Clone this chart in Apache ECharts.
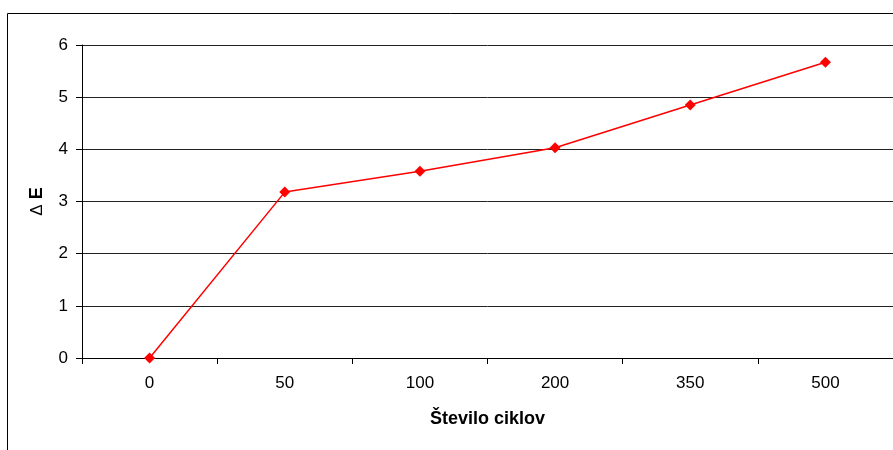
<!DOCTYPE html>
<html>
<head>
<meta charset="utf-8">
<script src="https://cdn.jsdelivr.net/npm/echarts@6/dist/echarts.min.js"></script>
<style>
  html, body { margin: 0; padding: 0; background: #fff; }
  #chart { width: 893px; height: 450px; }
</style>
</head>
<body>
<div id="chart"></div>
<script>
// Number of cycles and the measured colour difference after each
const cycles = ['0', '50', '100', '200', '350', '500'];
const deltaE = [0, 3.18, 3.58, 4.03, 4.85, 5.67];
const yTicks = { min: 0, max: 6, interval: 1 };

const font = 'Liberation Sans, Arial, sans-serif';
const chart = echarts.init(document.getElementById('chart'), null, { renderer: 'canvas' });

chart.setOption({
  backgroundColor: '#fff',
  animation: false,
  graphic: [{
    type: 'rect',
    shape: { x: 7.5, y: 13.5, width: 1000, height: 1000 },
    style: { fill: 'none', stroke: '#000', lineWidth: 1 },
    silent: true
  }],
  grid: { left: 82, right: -2, top: 45, bottom: 92, containLabel: false },
  xAxis: {
    type: 'category',
    data: cycles,
    boundaryGap: true,
    name: 'Število ciklov',
    nameLocation: 'middle',
    nameGap: 52,
    nameTextStyle: { fontFamily: font, fontSize: 18, fontWeight: 'bold', color: '#000' },
    axisLine: { lineStyle: { color: '#000', width: 1 } },
    axisTick: { show: true, alignWithLabel: false, length: 6, lineStyle: { color: '#000' } },
    axisLabel: { fontFamily: font, fontSize: 17, color: '#000', margin: 17 },
    splitLine: { show: false }
  },
  yAxis: {
    type: 'value',
    min: yTicks.min,
    max: yTicks.max,
    interval: yTicks.interval,
    name: '{d|Δ} {e|E}',
    nameLocation: 'middle',
    nameRotate: 90,
    nameGap: 36,
    nameTextStyle: {
      fontFamily: font, fontSize: 18, color: '#000',
      rich: {
        d: { fontFamily: font, fontSize: 17, fontWeight: 'normal', color: '#000' },
        e: { fontFamily: font, fontSize: 18, fontWeight: 'bold', color: '#000' }
      }
    },
    axisLine: { show: true, lineStyle: { color: '#000', width: 1 } },
    axisTick: { show: true, inside: false, length: 6, lineStyle: { color: '#000' } },
    axisLabel: { fontFamily: font, fontSize: 17, color: '#000', margin: 14 },
    splitLine: { show: true, lineStyle: { color: '#222', width: 1 } }
  },
  series: [{
    type: 'line',
    data: deltaE,
    symbol: 'diamond',
    symbolSize: 11,
    itemStyle: { color: '#ff0000' },
    lineStyle: { color: '#ff0000', width: 1.5 },
    label: { show: false }
  }]
});
</script>
</body>
</html>
